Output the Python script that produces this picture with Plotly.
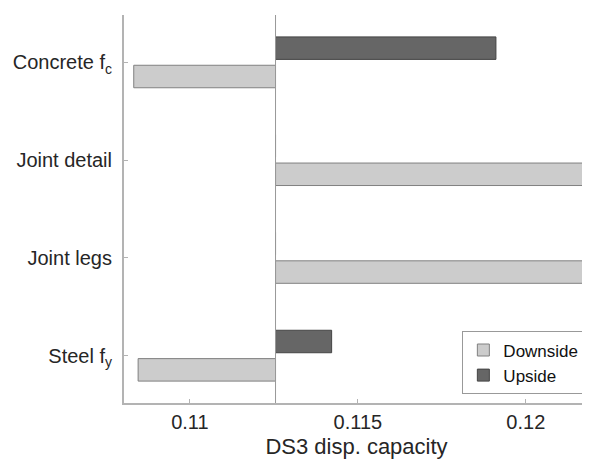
import plotly.graph_objects as go

# Data (bottom to top)
categories = ["Steel f<sub>y</sub>", "Joint legs", "Joint detail", "Concrete f<sub>c</sub>"]
positions = [1, 2, 3, 4]
base_value = 0.11255
downside = [0.10846, 0.12169, 0.12169, 0.10833]
upside = [0.11422, 0.11255, 0.11255, 0.11911]
x_ticks = [0.11, 0.115, 0.12]
x_tick_labels = ["0.11", "0.115", "0.12"]

FONT = "Liberation Sans, Arial, Helvetica, sans-serif"
AX = "#b3b3b3"

fig = go.Figure()
fig.add_trace(go.Bar(
    name="Downside", orientation="h", y=positions,
    x=[d - base_value for d in downside], base=base_value,
    width=0.23, offset=-0.26,
    marker=dict(color="#cccccc", line=dict(color="#808080", width=1)),
))
fig.add_trace(go.Bar(
    name="Upside", orientation="h", y=positions,
    x=[u - base_value for u in upside], base=base_value,
    width=0.23, offset=0.03,
    marker=dict(color="#666666", line=dict(color="#444444", width=1)),
))

fig.add_shape(type="line", xref="x", yref="paper", x0=base_value, x1=base_value,
              y0=0, y1=1, line=dict(color="#999999", width=1), layer="above")

fig.update_layout(
    width=582, height=451,
    margin=dict(l=116, r=1, t=7, b=56, autoexpand=False),
    paper_bgcolor="white", plot_bgcolor="white",
    barmode="overlay",
    font=dict(family=FONT, color="#262626"),
    showlegend=True,
    legend=dict(
        x=0.99, y=0.022, xanchor="right", yanchor="bottom",
        bgcolor="white", bordercolor="#999999", borderwidth=1,
        font=dict(size=17, color="#111111"), traceorder="normal",
        tracegroupgap=0, itemwidth=30, entrywidth=0,
    ),
    xaxis=dict(
        range=[0.10804, 0.12188], tickvals=x_ticks, ticktext=x_tick_labels,
        ticks="inside", ticklen=4, tickcolor=AX, showline=True, linecolor=AX,
        linewidth=2, showgrid=False, zeroline=False, automargin=False,
        tickfont=dict(size=20, color="#262626"),
        title=dict(text="DS3 disp. capacity", font=dict(size=22, color="#262626"), standoff=7),
    ),
    yaxis=dict(
        range=[0.516, 4.484], tickvals=positions, ticktext=categories,
        ticks="inside", ticklen=4, tickcolor=AX, showline=True, linecolor=AX,
        linewidth=2, showgrid=False, zeroline=False, automargin=False,
        tickfont=dict(size=20, color="#262626"), ticklabelstandoff=6,
    ),
)

fig.write_html("out.html")
